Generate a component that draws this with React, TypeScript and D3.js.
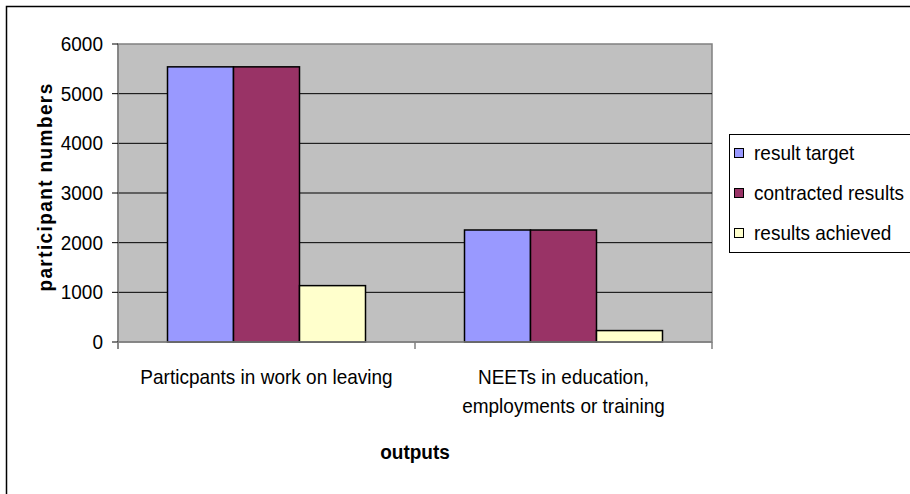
import React from "react";
import * as d3 from "d3";

const categories: string[][] = [
  ["Particpants in work on leaving"],
  ["NEETs in education,", "employments or training"],
];
const seriesNames = ["result target", "contracted results", "results achieved"];
const seriesColors = ["#9999FF", "#993366", "#FFFFCC"];
const resultTarget = [5540, 2255];
const contractedResults = [5540, 2255];
const resultsAchieved = [1135, 230];
const yTicks = [0, 1000, 2000, 3000, 4000, 5000, 6000];

const W = 910;
const H = 494;
const plot = { left: 118, top: 44, right: 712, bottom: 342 };
const FONT = "'Liberation Sans', Arial, sans-serif";
const SY = 1.1;

function T(props: {
  x: number;
  y: number;
  anchor?: "start" | "middle" | "end";
  bold?: boolean;
  rotate?: number;
  ls?: number;
  children: React.ReactNode;
}) {
  const { x, y, anchor = "start", bold, rotate, ls, children } = props;
  const tr = rotate
    ? `translate(${x},${y}) rotate(${rotate}) scale(1,${SY})`
    : `translate(${x},${y}) scale(1,${SY})`;
  return (
    <text
      transform={tr}
      textAnchor={anchor}
      fontSize={19}
      fontWeight={bold ? "bold" : "normal"}
      letterSpacing={ls}
      fill="#000"
    >
      {children}
    </text>
  );
}

export default function App() {
  const series = [resultTarget, contractedResults, resultsAchieved];
  const catKeys = categories.map((c) => c.join(" "));
  const x0 = d3.scaleBand<string>().domain(catKeys).range([plot.left, plot.right]).padding(0);
  const bw = x0.bandwidth();
  const gap = bw / 6;
  const x1 = d3.scaleBand<string>().domain(seriesNames).range([gap, bw - gap]).padding(0);
  const y = d3.scaleLinear().domain([0, 6000]).range([plot.bottom, plot.top]);

  return (
    <svg
      width={W}
      height={H}
      style={{ position: "absolute", left: 0, top: 0, background: "#fff" }}
      fontFamily={FONT}
    >
      <rect x={0} y={0} width={W} height={H} fill="#fff" />
      <rect x={6.5} y={6.5} width={1000} height={1000} fill="none" stroke="#000" strokeWidth={1.5} />

      {/* plot area */}
      <rect
        x={plot.left}
        y={plot.top}
        width={plot.right - plot.left}
        height={plot.bottom - plot.top}
        fill="#C0C0C0"
        stroke="#808080"
        strokeWidth={1.5}
      />
      {yTicks.slice(1, -1).map((t) => (
        <line key={t} x1={plot.left} x2={plot.right} y1={y(t)} y2={y(t)} stroke="#000" strokeWidth={1} />
      ))}

      {/* bars */}
      {catKeys.map((c, ci) => (
        <g key={c} transform={`translate(${x0(c)},0)`}>
          {series.map((s, si) => (
            <rect
              key={si}
              x={x1(seriesNames[si])}
              y={y(s[ci])}
              width={x1.bandwidth()}
              height={y(0) - y(s[ci])}
              fill={seriesColors[si]}
              stroke="#000"
              strokeWidth={1.5}
            />
          ))}
        </g>
      ))}

      {/* y axis */}
      <line x1={plot.left} x2={plot.left} y1={plot.top} y2={plot.bottom + 7} stroke="#808080" strokeWidth={1.5} />
      {yTicks.map((t) => (
        <g key={t}>
          <line x1={plot.left - 6} x2={plot.left} y1={y(t)} y2={y(t)} stroke="#000" strokeWidth={1} />
          <T x={103} y={y(t) + 7} anchor="end">
            {t}
          </T>
        </g>
      ))}

      {/* x axis */}
      <line x1={plot.left} x2={plot.right} y1={plot.bottom} y2={plot.bottom} stroke="#808080" strokeWidth={1.5} />
      {[plot.left, ...catKeys.map((c) => (x0(c) as number) + bw)].map((xx, i) => (
        <line key={i} x1={xx} x2={xx} y1={plot.bottom} y2={plot.bottom + 7} stroke="#808080" strokeWidth={1.5} />
      ))}
      {categories.map((lines, ci) =>
        lines.map((l, li) => (
          <T key={`${ci}-${li}`} x={(x0(catKeys[ci]) as number) + bw / 2} y={384 + li * 29} anchor="middle">
            {l}
          </T>
        ))
      )}

      {/* axis titles */}
      <T x={(plot.left + plot.right) / 2} y={459} anchor="middle" bold>
        outputs
      </T>
      <T x={52} y={(plot.top + plot.bottom) / 2 - 6} anchor="middle" bold rotate={-90} ls={1.4}>
        participant numbers
      </T>

      {/* legend */}
      <rect x={729.5} y={134.5} width={300} height={118} fill="#fff" stroke="#000" strokeWidth={1} />
      {seriesNames.map((n, i) => (
        <g key={n}>
          <rect x={734.5} y={148.5 + i * 40} width={9} height={9} fill={seriesColors[i]} stroke="#000" strokeWidth={1} />
          <T x={754} y={160 + i * 40}>
            {n}
          </T>
        </g>
      ))}
    </svg>
  );
}
